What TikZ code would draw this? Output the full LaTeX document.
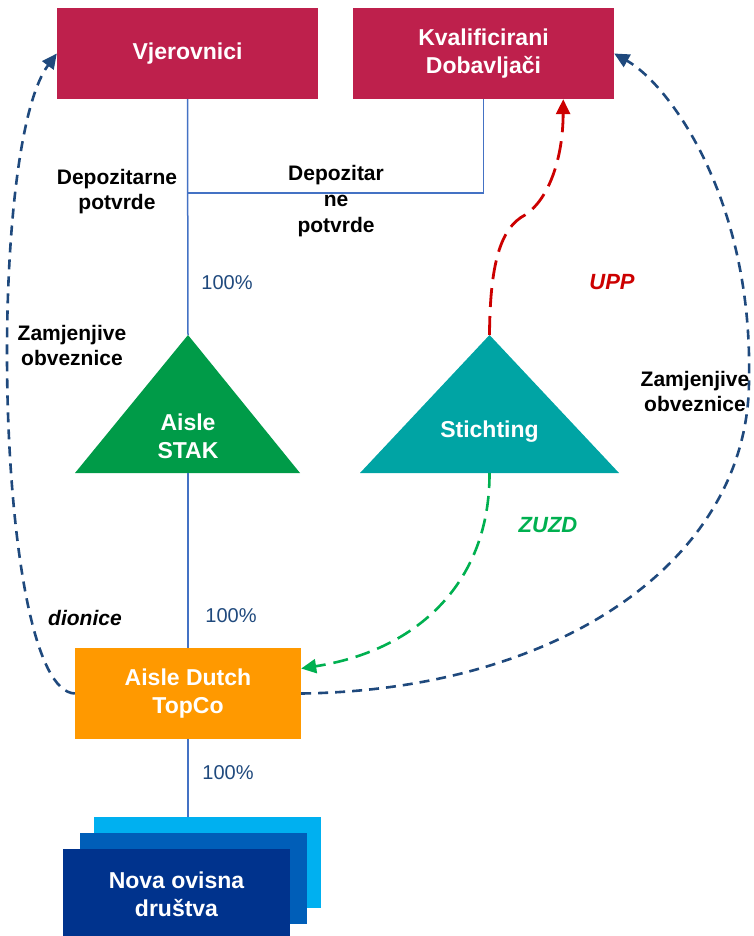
\documentclass[tikz,border=0pt]{standalone}
\usepackage{fontspec}
\setmainfont{Liberation Sans}
\usetikzlibrary{arrows.meta}
\definecolor{crim}{RGB}{190,32,76}
\definecolor{stakgreen}{RGB}{0,155,72}
\definecolor{teal2}{RGB}{0,164,164}
\definecolor{orng}{RGB}{255,153,0}
\definecolor{lightb}{RGB}{0,176,240}
\definecolor{midb}{RGB}{0,94,184}
\definecolor{darkb}{RGB}{0,51,141}
\definecolor{navy}{RGB}{31,73,125}
\definecolor{thinb}{RGB}{68,114,196}
\definecolor{reda}{RGB}{204,0,0}
\definecolor{grn}{RGB}{0,176,80}
\begin{document}
\begin{tikzpicture}[x=1pt,y=-1pt,
  boxtext/.style={text=white, font=\fontsize{23}{28}\selectfont\bfseries, align=center},
  redbox/.style={boxtext, fill=crim, minimum width=261pt, minimum height=91pt, inner sep=0pt},
  orangebox/.style={boxtext, fill=orng, minimum width=226pt, minimum height=91pt, inner sep=0pt},
  subbox/.style={minimum width=227pt, minimum height=91pt, inner sep=0pt},
  lbl/.style={font=\fontsize{21}{25}\selectfont\bfseries, align=center, inner sep=0pt},
  pct/.style={font=\fontsize{20}{24}\selectfont, text=navy, inner sep=0pt},
  thinline/.style={draw=thinb, line width=1.5pt},
  bluedash/.style={draw=navy, line width=2.6pt, dash pattern=on 10pt off 7pt, -{Triangle[length=15pt,width=14pt]}},
  reddash/.style={draw=reda, line width=2.8pt, dash pattern=on 19pt off 9pt, -{Triangle[length=15pt,width=14pt]}},
  greendash/.style={draw=grn, line width=2.6pt, dash pattern=on 15pt off 8pt, -{Triangle[length=15pt,width=14pt]}}
]
\useasboundingbox (0,0) rectangle (753,936);

% top boxes
\node[redbox] (vjer) at (187.5,53.5) {Vjerovnici};
\node[redbox] (kval) at (483.5,53.5) {Kvalificirani\\Dobavljači};

% triangles
\coordinate (stakA) at (188,335);
\coordinate (stakL) at (75,473);
\coordinate (stakR) at (300,473);
\coordinate (stakB) at (188,473);
\fill[stakgreen] (stakA) -- (stakR) -- (stakL) -- cycle;
\node[boxtext, inner sep=0pt] (stak) at (188,436) {Aisle\\STAK};

\coordinate (stichA) at (489.5,335);
\coordinate (stichL) at (360,473);
\coordinate (stichR) at (619,473);
\coordinate (stichB) at (489.5,473);
\fill[teal2] (stichA) -- (stichR) -- (stichL) -- cycle;
\node[boxtext, inner sep=0pt] (stich) at (489.5,432) {Stichting};

% TopCo
\node[orangebox] (topco) at (188,693.5) {Aisle Dutch\\TopCo};

% stacked subsidiaries
\node[subbox, fill=lightb] (sub3) at (207.5,862.5) {};
\node[subbox, fill=midb] (sub2) at (193.5,878.5) {};
\node[subbox, fill=darkb, boxtext] (sub1) at (176.5,894.5) {Nova ovisna\\društva};

% thin ownership lines
\coordinate (junc) at (188,193);
\coordinate (kcorner) at (483.5,193);
\draw[thinline] (vjer.south) -- (stakA);
\draw[thinline] (junc) -- (kcorner) -- (kval.south);
\draw[thinline] (stakB) -- (topco.north);
\draw[thinline] (topco.south) -- (topco.south |- sub3.north);

% dashed connectors
\draw[bluedash] (topco.west) .. controls (-5,690) and (-15,150) .. (vjer.west);
\coordinate (rmid) at (749,380);
\draw[bluedash] (topco.east) .. controls (560,690) and (749,560) .. (rmid)
  .. controls (753,200) and (670,85) .. (kval.east);
\draw[reddash] (stichA) .. controls (490,265) and (500,228) .. (525,215)
  .. controls (548,200) and (563,160) .. ([xshift=-51pt]kval.south east);
\draw[greendash] (stichB) .. controls (490,580) and (420,650) .. ([yshift=25pt]topco.east);

% labels
\node[lbl] (deppot) at (117,192) {Depozitarne\\potvrde};
\node[lbl, font=\fontsize{21}{26}\selectfont\bfseries] (depnp) at (336,201) {Depozitar\\ne\\potvrde};
\node[pct] (p1) at (227,283) {100\%};
\node[pct] (p2) at (231,616) {100\%};
\node[pct] (p3) at (228,773) {100\%};
\node[lbl, text=reda, font=\fontsize{22}{26}\selectfont\bfseries\itshape] (upp) at (612,282) {UPP};
\node[lbl] (zam1) at (72,345) {Zamjenjive\\obveznice};
\node[lbl] (zam2) at (695,391) {Zamjenjive\\obveznice};
\node[lbl, text=grn, font=\fontsize{22}{26}\selectfont\bfseries\itshape] (zuzd) at (548,525) {ZUZD};
\node[lbl, font=\fontsize{21}{25}\selectfont\bfseries\itshape] (dion) at (85,618) {dionice};
\end{tikzpicture}
\end{document}
